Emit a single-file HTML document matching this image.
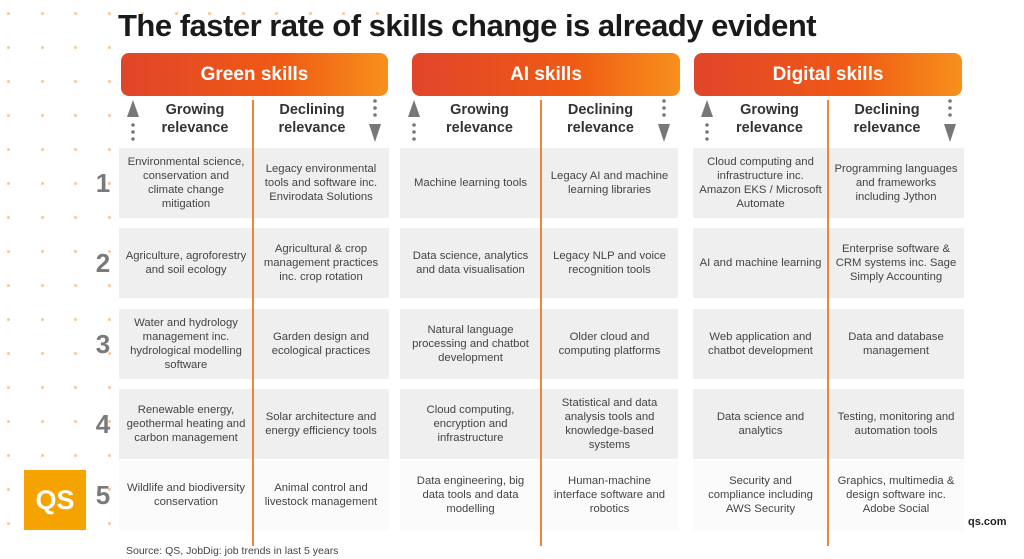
<!DOCTYPE html>
<html><head><meta charset="utf-8">
<style>
*{margin:0;padding:0;box-sizing:border-box}
body{width:1024px;height:559px;background:#fff;position:relative;overflow:hidden;font-family:"Liberation Sans",sans-serif;color:#333}
.abs{position:absolute}
.title{left:118px;top:8px;font-size:31px;font-weight:bold;color:#1a1a1a;letter-spacing:-0.5px;white-space:nowrap}
.hdr{height:43px;top:53px;border-radius:8px;background:linear-gradient(90deg,#e0452a,#f05a14 60%,#f7901c);color:#fff;font-weight:bold;font-size:19px;display:flex;align-items:center;justify-content:center}
.sub{top:101px;font-size:14.5px;font-weight:bold;color:#333;text-align:center;line-height:18px}
.cell{font-size:11.3px;line-height:14px;color:#444;text-align:center;display:flex;align-items:center;justify-content:center;padding:0 2px;white-space:pre-line}
.num{left:92px;width:22px;font-size:26px;font-weight:bold;color:#7a7a7a;text-align:center}
.vline{width:2px;background:#f0843a;top:100px;height:446px}
.dot{width:3px;height:3px;border-radius:50%;background:#f8c98e}
</style></head><body>
<div id="dots"></div>
<div class="abs title">The faster rate of skills change is already evident</div>
<div id="grid"></div>
<div class="abs" style="left:24px;top:470px;width:62px;height:60px;background:#f4a300;color:#fff;font-weight:bold;font-size:27px;display:flex;align-items:center;justify-content:center">QS</div>
<div class="abs" style="left:126px;top:545px;font-size:10.5px;color:#444">Source: QS, JobDig: job trends in last 5 years</div>
<div class="abs" style="left:968px;top:516px;font-size:11px;font-weight:bold;color:#222">qs.com</div>
<script>
const categories=["Green skills","AI skills","Digital skills"];
const growing=[
["Environmental science,\nconservation and\nclimate change\nmitigation","Agriculture, agroforestry\nand soil ecology","Water and hydrology\nmanagement inc.\nhydrological modelling\nsoftware","Renewable energy,\ngeothermal heating and\ncarbon management","Wildlife and biodiversity\nconservation"],
["Machine learning tools","Data science, analytics\nand data visualisation","Natural language\nprocessing and chatbot\ndevelopment","Cloud computing,\nencryption and\ninfrastructure","Data engineering, big\ndata tools and data\nmodelling"],
["Cloud computing and\ninfrastructure inc.\nAmazon EKS / Microsoft\nAutomate","AI and machine learning","Web application and\nchatbot development","Data science and\nanalytics","Security and\ncompliance including\nAWS Security"]];
const declining=[
["Legacy environmental\ntools and software inc.\nEnvirodata Solutions","Agricultural & crop\nmanagement practices\ninc. crop rotation","Garden design and\necological practices","Solar architecture and\nenergy efficiency tools","Animal control and\nlivestock management"],
["Legacy AI and machine\nlearning libraries","Legacy NLP and voice\nrecognition tools","Older cloud and\ncomputing platforms","Statistical and data\nanalysis tools and\nknowledge-based\nsystems","Human-machine\ninterface software and\nrobotics"],
["Programming languages\nand frameworks\nincluding Jython","Enterprise software &\nCRM systems inc. Sage\nSimply Accounting","Data and database\nmanagement","Testing, monitoring and\nautomation tools","Graphics, multimedia &\ndesign software inc.\nAdobe Social"]];
const ranks=["1","2","3","4","5"];
const panels=[{x:119,w:270,mid:253,hx:121,hw:267},{x:400,w:278,mid:541,hx:412,hw:268},{x:693,w:271,mid:828,hx:694,hw:268}];
const rowTop=[148,228,309,389,460],rowH=70;
const g=document.getElementById('grid');
function mk(cls,st,txt){const d=document.createElement('div');d.className='abs '+cls;Object.assign(d.style,st);if(txt!=null)d.textContent=txt;g.appendChild(d);return d;}
const dw=document.getElementById('dots');
for(let r=0;r<16;r++)for(let c=0;c<13;c++){const x=7+c*33.5,y=12+r*34;if(x>110&&y>45)continue;if(x>400)continue;const d=document.createElement('div');d.className='abs dot';d.style.left=x+'px';d.style.top=y+'px';

dw.appendChild(d);}
ranks.forEach((r,i)=>{const n=mk('num',{top:(rowTop[i]+rowH/2-15)+'px'},r);

});
panels.forEach((p,k)=>{
 const h=mk('hdr',{left:p.hx+'px',width:p.hw+'px'},categories[k]);
 
 
 const lw=p.mid-p.x, rw=p.x+p.w-p.mid;
 const s1=mk('sub',{left:(p.x+18)+'px',width:(lw-18)+'px'});s1.innerHTML='Growing<br>relevance';
 
 
 const s2=mk('sub',{left:p.mid+'px',width:(rw-18)+'px'});s2.innerHTML='Declining<br>relevance';
 
 
 const a1=mk('',{left:(p.x+7)+'px',top:'100px',width:'14px',height:'46px'});a1.innerHTML='<svg width="14" height="46"><polygon points="7,0 1,17 13,17" fill="#777"/><circle cx="7" cy="25" r="1.8" fill="#777"/><circle cx="7" cy="32" r="1.8" fill="#777"/><circle cx="7" cy="39" r="1.8" fill="#777"/></svg>';
 
 
 const a2=mk('',{left:(p.x+p.w-21)+'px',top:'98px',width:'14px',height:'46px'});a2.innerHTML='<svg width="14" height="46"><circle cx="7" cy="3" r="1.8" fill="#777"/><circle cx="7" cy="10" r="1.8" fill="#777"/><circle cx="7" cy="17" r="1.8" fill="#777"/><polygon points="1,26 13,26 7,44" fill="#777"/></svg>';
 
 
 ranks.forEach((r,i)=>{
  const bg=mk('',{left:p.x+'px',top:rowTop[i]+'px',width:p.w+'px',height:rowH+'px',background:i<4?'#efefef':'#fbfbfb'});
  
  
  const c1=mk('cell',{left:p.x+'px',top:rowTop[i]+'px',width:lw+'px',height:rowH+'px'},growing[k][i]);
  
  
  const c2=mk('cell',{left:p.mid+'px',top:rowTop[i]+'px',width:rw+'px',height:rowH+'px'},declining[k][i]);
  
  
 });
 const v=mk('vline',{left:(p.mid-1)+'px'});
 
 
});
</script>
</body></html>
